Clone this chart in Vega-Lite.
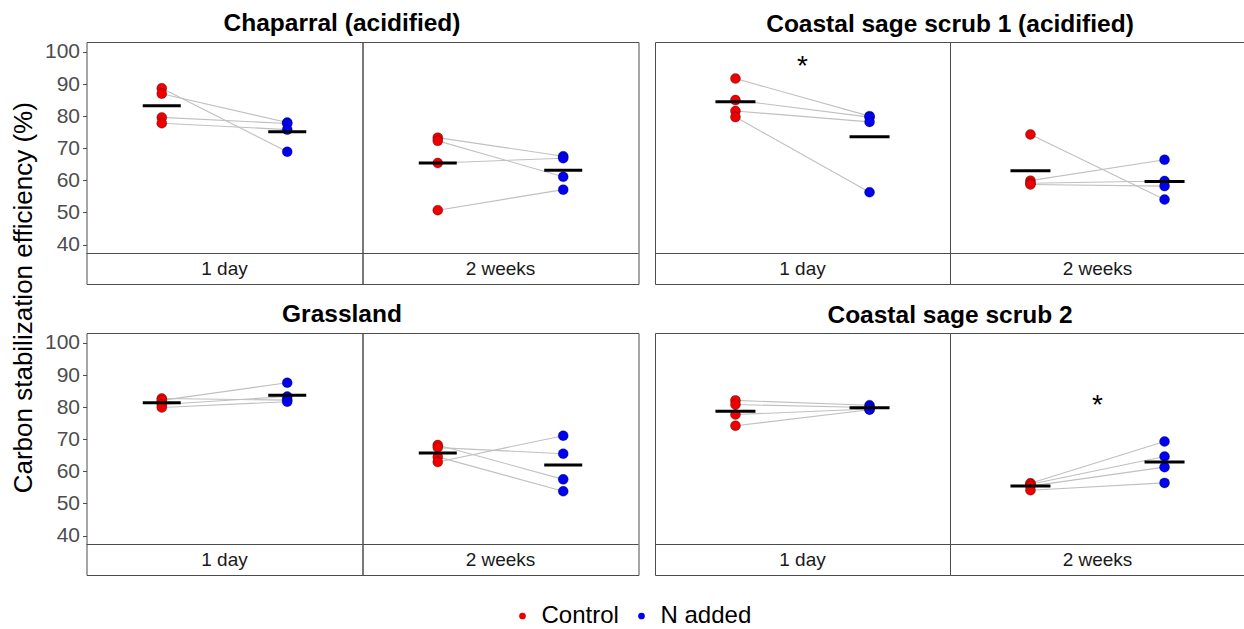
{
  "$schema": "https://vega.github.io/schema/vega-lite/v6.json",
  "padding": {"left": 10.5, "top": 11, "right": 0, "bottom": 0},
  "title": {"text": "Carbon stabilization efficiency (%)", "orient": "left", "anchor": "middle", "fontSize": 26, "fontWeight": "normal", "color": "black", "offset": -19, "baseline": "bottom", "dx": 22},
  "config": {
    "font": "Liberation Sans",
    "view": {"stroke": "#4d4d4d", "strokeWidth": 1},
    "title": {"fontSize": 24.5, "fontWeight": "bold", "color": "black", "anchor": "middle", "offset": 4, "baseline": "alphabetic"},
    "axisY": {"labelFontSize": 21, "labelColor": "#4d4d4d", "tickColor": "#4d4d4d", "tickSize": 4, "labelPadding": 3, "domain": false, "grid": false}
  },
  "datasets": {
    "obs": [
      {"site":"CH","time":"1 day","treatment":"Control","pair":"a","value":88.7},
      {"site":"CH","time":"1 day","treatment":"N added","pair":"a","value":68.9},
      {"site":"CH","time":"1 day","treatment":"Control","pair":"b","value":87.0},
      {"site":"CH","time":"1 day","treatment":"N added","pair":"b","value":78.0},
      {"site":"CH","time":"1 day","treatment":"Control","pair":"c","value":79.6},
      {"site":"CH","time":"1 day","treatment":"N added","pair":"c","value":77.7},
      {"site":"CH","time":"1 day","treatment":"Control","pair":"d","value":77.8},
      {"site":"CH","time":"1 day","treatment":"N added","pair":"d","value":75.8},
      {"site":"CH","time":"2 weeks","treatment":"Control","pair":"a","value":73.3},
      {"site":"CH","time":"2 weeks","treatment":"N added","pair":"a","value":67.5},
      {"site":"CH","time":"2 weeks","treatment":"Control","pair":"b","value":72.3},
      {"site":"CH","time":"2 weeks","treatment":"N added","pair":"b","value":61.1},
      {"site":"CH","time":"2 weeks","treatment":"Control","pair":"c","value":65.4},
      {"site":"CH","time":"2 weeks","treatment":"N added","pair":"c","value":66.9},
      {"site":"CH","time":"2 weeks","treatment":"Control","pair":"d","value":50.7},
      {"site":"CH","time":"2 weeks","treatment":"N added","pair":"d","value":57.1},
      {"site":"CSS1","time":"1 day","treatment":"Control","pair":"a","value":91.7},
      {"site":"CSS1","time":"1 day","treatment":"N added","pair":"a","value":80.0},
      {"site":"CSS1","time":"1 day","treatment":"Control","pair":"b","value":85.0},
      {"site":"CSS1","time":"1 day","treatment":"N added","pair":"b","value":79.7},
      {"site":"CSS1","time":"1 day","treatment":"Control","pair":"c","value":81.6},
      {"site":"CSS1","time":"1 day","treatment":"N added","pair":"c","value":78.2},
      {"site":"CSS1","time":"1 day","treatment":"Control","pair":"d","value":79.7},
      {"site":"CSS1","time":"1 day","treatment":"N added","pair":"d","value":56.3},
      {"site":"CSS1","time":"2 weeks","treatment":"Control","pair":"a","value":74.3},
      {"site":"CSS1","time":"2 weeks","treatment":"N added","pair":"a","value":54.0},
      {"site":"CSS1","time":"2 weeks","treatment":"Control","pair":"b","value":59.9},
      {"site":"CSS1","time":"2 weeks","treatment":"N added","pair":"b","value":66.4},
      {"site":"CSS1","time":"2 weeks","treatment":"Control","pair":"c","value":59.1},
      {"site":"CSS1","time":"2 weeks","treatment":"N added","pair":"c","value":59.8},
      {"site":"CSS1","time":"2 weeks","treatment":"Control","pair":"d","value":58.7},
      {"site":"CSS1","time":"2 weeks","treatment":"N added","pair":"d","value":58.2},
      {"site":"GR","time":"1 day","treatment":"Control","pair":"a","value":82.7},
      {"site":"GR","time":"1 day","treatment":"N added","pair":"a","value":82.2},
      {"site":"GR","time":"1 day","treatment":"Control","pair":"b","value":82.1},
      {"site":"GR","time":"1 day","treatment":"N added","pair":"b","value":87.6},
      {"site":"GR","time":"1 day","treatment":"Control","pair":"c","value":80.8},
      {"site":"GR","time":"1 day","treatment":"N added","pair":"c","value":83.3},
      {"site":"GR","time":"1 day","treatment":"Control","pair":"d","value":79.9},
      {"site":"GR","time":"1 day","treatment":"N added","pair":"d","value":81.7},
      {"site":"GR","time":"2 weeks","treatment":"Control","pair":"a","value":68.2},
      {"site":"GR","time":"2 weeks","treatment":"N added","pair":"a","value":57.5},
      {"site":"GR","time":"2 weeks","treatment":"Control","pair":"b","value":67.4},
      {"site":"GR","time":"2 weeks","treatment":"N added","pair":"b","value":65.5},
      {"site":"GR","time":"2 weeks","treatment":"Control","pair":"c","value":64.5},
      {"site":"GR","time":"2 weeks","treatment":"N added","pair":"c","value":53.8},
      {"site":"GR","time":"2 weeks","treatment":"Control","pair":"d","value":62.9},
      {"site":"GR","time":"2 weeks","treatment":"N added","pair":"d","value":71.1},
      {"site":"CSS2","time":"1 day","treatment":"Control","pair":"a","value":82.1},
      {"site":"CSS2","time":"1 day","treatment":"N added","pair":"a","value":80.6},
      {"site":"CSS2","time":"1 day","treatment":"Control","pair":"b","value":80.8},
      {"site":"CSS2","time":"1 day","treatment":"N added","pair":"b","value":79.9},
      {"site":"CSS2","time":"1 day","treatment":"Control","pair":"c","value":77.7},
      {"site":"CSS2","time":"1 day","treatment":"N added","pair":"c","value":79.4},
      {"site":"CSS2","time":"1 day","treatment":"Control","pair":"d","value":74.2},
      {"site":"CSS2","time":"1 day","treatment":"N added","pair":"d","value":79.2},
      {"site":"CSS2","time":"2 weeks","treatment":"Control","pair":"a","value":56.3},
      {"site":"CSS2","time":"2 weeks","treatment":"N added","pair":"a","value":69.3},
      {"site":"CSS2","time":"2 weeks","treatment":"Control","pair":"b","value":56.0},
      {"site":"CSS2","time":"2 weeks","treatment":"N added","pair":"b","value":64.6},
      {"site":"CSS2","time":"2 weeks","treatment":"Control","pair":"c","value":55.4},
      {"site":"CSS2","time":"2 weeks","treatment":"N added","pair":"c","value":61.3},
      {"site":"CSS2","time":"2 weeks","treatment":"Control","pair":"d","value":54.1},
      {"site":"CSS2","time":"2 weeks","treatment":"N added","pair":"d","value":56.4}
    ]
  },
  "data": {"name": "obs"},
  "spacing": 17,
  "vconcat": [
    {
      "spacing": 14.5,
      "hconcat": [
        {
          "title": "Chaparral (acidified)",
          "transform": [{"filter": {"field": "site", "equal": "CH"}}],
          "facet": {"column": {"field": "time", "type": "nominal", "header": {"title": null, "labels": false}}},
          "spacing": 0,
          "bounds": "flush",
          "spec": {
            "width": 276, "height": 242,
            "layer": [
              {
                "transform": [{"aggregate": [{"op": "count", "as": "n"}], "groupby": ["time"]}],
                "layer": [
                  {"mark": {"type": "rule", "color": "#4d4d4d", "strokeWidth": 1}, "encoding": {"y": {"datum": 37.2, "type": "quantitative", "scale": {"domain": [27.7, 103.1], "nice": false, "zero": false}, "axis": {"values": [40,50,60,70,80,90,100], "title": null}}}},
                  {"mark": {"type": "text", "fontSize": 19, "color": "#1a1a1a", "baseline": "middle"}, "encoding": {"y": {"datum": 32.4, "type": "quantitative", "scale": {"domain": [27.7, 103.1], "nice": false, "zero": false}, "axis": {"values": [40,50,60,70,80,90,100], "title": null}}, "text": {"field": "time"}}}
                ]
              },
              {"mark": {"type": "line", "color": "#c0c0c0", "strokeWidth": 1.1},
               "encoding": {"x": {"field": "treatment", "type": "nominal", "scale": {"type": "point", "padding": 0.6, "domain": ["Control", "N added"]}, "axis": null},
                            "y": {"field": "value", "type": "quantitative", "scale": {"domain": [27.7, 103.1], "nice": false, "zero": false}, "axis": {"values": [40,50,60,70,80,90,100], "title": null}},
                            "detail": {"field": "pair"}}},
              {"mark": {"type": "circle", "size": 100, "opacity": 1, "stroke": "#000000", "strokeWidth": 0.6, "strokeOpacity": 0.5},
               "encoding": {"x": {"field": "treatment", "type": "nominal", "scale": {"type": "point", "padding": 0.6, "domain": ["Control", "N added"]}, "axis": null},
                            "y": {"field": "value", "type": "quantitative", "scale": {"domain": [27.7, 103.1], "nice": false, "zero": false}, "axis": {"values": [40,50,60,70,80,90,100], "title": null}},
                            "color": {"field": "treatment", "type": "nominal", "scale": {"domain": ["Control", "N added"], "range": ["#ee0000", "#0000ee"]}, "legend": {"title": null, "orient": "none", "legendX": 424, "legendY": 562, "direction": "horizontal", "labelFontSize": 24, "labelColor": "black", "symbolSize": 45, "symbolType": "circle", "symbolStrokeWidth": 0, "labelOffset": 7, "columnPadding": 10}}}},
              {"mark": {"type": "tick", "orient": "horizontal", "color": "black", "thickness": 3, "size": 38},
               "encoding": {"x": {"field": "treatment", "type": "nominal", "scale": {"type": "point", "padding": 0.6, "domain": ["Control", "N added"]}, "axis": null},
                            "y": {"aggregate": "mean", "field": "value", "type": "quantitative", "scale": {"domain": [27.7, 103.1], "nice": false, "zero": false}, "axis": {"values": [40,50,60,70,80,90,100], "title": null}}}}
            ]
          }
        },
        {
          "title": "Coastal sage scrub 1 (acidified)",
          "transform": [{"filter": {"field": "site", "equal": "CSS1"}}],
          "facet": {"column": {"field": "time", "type": "nominal", "header": {"title": null, "labels": false}}},
          "spacing": 0,
          "bounds": "flush",
          "spec": {
            "width": 295, "height": 242,
            "layer": [
              {
                "transform": [{"aggregate": [{"op": "count", "as": "n"}], "groupby": ["time"]}],
                "layer": [
                  {"mark": {"type": "rule", "color": "#4d4d4d", "strokeWidth": 1}, "encoding": {"y": {"datum": 37.2, "type": "quantitative", "scale": {"domain": [27.7, 103.1], "nice": false, "zero": false}, "axis": null}}},
                  {"mark": {"type": "text", "fontSize": 19, "color": "#1a1a1a", "baseline": "middle"}, "encoding": {"y": {"datum": 32.4, "type": "quantitative", "scale": {"domain": [27.7, 103.1], "nice": false, "zero": false}, "axis": null}, "text": {"field": "time"}}}
                ]
              },
              {"mark": {"type": "line", "color": "#c0c0c0", "strokeWidth": 1.1},
               "encoding": {"x": {"field": "treatment", "type": "nominal", "scale": {"type": "point", "padding": 0.6, "domain": ["Control", "N added"]}, "axis": null},
                            "y": {"field": "value", "type": "quantitative", "scale": {"domain": [27.7, 103.1], "nice": false, "zero": false}, "axis": null},
                            "detail": {"field": "pair"}}},
              {"mark": {"type": "circle", "size": 100, "opacity": 1, "stroke": "#000000", "strokeWidth": 0.6, "strokeOpacity": 0.5},
               "encoding": {"x": {"field": "treatment", "type": "nominal", "scale": {"type": "point", "padding": 0.6, "domain": ["Control", "N added"]}, "axis": null},
                            "y": {"field": "value", "type": "quantitative", "scale": {"domain": [27.7, 103.1], "nice": false, "zero": false}, "axis": null},
                            "color": {"field": "treatment", "type": "nominal", "scale": {"domain": ["Control", "N added"], "range": ["#ee0000", "#0000ee"]}, "legend": {"title": null, "orient": "none", "legendX": 424, "legendY": 562, "direction": "horizontal", "labelFontSize": 24, "labelColor": "black", "symbolSize": 45, "symbolType": "circle", "symbolStrokeWidth": 0, "labelOffset": 7, "columnPadding": 10}}}},
              {"mark": {"type": "tick", "orient": "horizontal", "color": "black", "thickness": 3, "size": 40},
               "encoding": {"x": {"field": "treatment", "type": "nominal", "scale": {"type": "point", "padding": 0.6, "domain": ["Control", "N added"]}, "axis": null},
                            "y": {"aggregate": "mean", "field": "value", "type": "quantitative", "scale": {"domain": [27.7, 103.1], "nice": false, "zero": false}, "axis": null}}},
              {"transform": [{"filter": {"field": "time", "equal": "1 day"}}, {"aggregate": [{"op": "count", "as": "n"}], "groupby": ["time"]}],
               "mark": {"type": "text", "text": "*", "fontSize": 28, "baseline": "alphabetic", "color": "black"},
               "encoding": {"y": {"datum": 92.9, "type": "quantitative", "scale": {"domain": [27.7, 103.1], "nice": false, "zero": false}, "axis": null}}}
            ]
          }
        }
      ]
    },
    {
      "spacing": 14.5,
      "hconcat": [
        {
          "title": "Grassland",
          "transform": [{"filter": {"field": "site", "equal": "GR"}}],
          "facet": {"column": {"field": "time", "type": "nominal", "header": {"title": null, "labels": false}}},
          "spacing": 0,
          "bounds": "flush",
          "spec": {
            "width": 276, "height": 242,
            "layer": [
              {
                "transform": [{"aggregate": [{"op": "count", "as": "n"}], "groupby": ["time"]}],
                "layer": [
                  {"mark": {"type": "rule", "color": "#4d4d4d", "strokeWidth": 1}, "encoding": {"y": {"datum": 37.2, "type": "quantitative", "scale": {"domain": [27.7, 103.1], "nice": false, "zero": false}, "axis": {"values": [40,50,60,70,80,90,100], "title": null}}}},
                  {"mark": {"type": "text", "fontSize": 19, "color": "#1a1a1a", "baseline": "middle"}, "encoding": {"y": {"datum": 32.4, "type": "quantitative", "scale": {"domain": [27.7, 103.1], "nice": false, "zero": false}, "axis": {"values": [40,50,60,70,80,90,100], "title": null}}, "text": {"field": "time"}}}
                ]
              },
              {"mark": {"type": "line", "color": "#c0c0c0", "strokeWidth": 1.1},
               "encoding": {"x": {"field": "treatment", "type": "nominal", "scale": {"type": "point", "padding": 0.6, "domain": ["Control", "N added"]}, "axis": null},
                            "y": {"field": "value", "type": "quantitative", "scale": {"domain": [27.7, 103.1], "nice": false, "zero": false}, "axis": {"values": [40,50,60,70,80,90,100], "title": null}},
                            "detail": {"field": "pair"}}},
              {"mark": {"type": "circle", "size": 100, "opacity": 1, "stroke": "#000000", "strokeWidth": 0.6, "strokeOpacity": 0.5},
               "encoding": {"x": {"field": "treatment", "type": "nominal", "scale": {"type": "point", "padding": 0.6, "domain": ["Control", "N added"]}, "axis": null},
                            "y": {"field": "value", "type": "quantitative", "scale": {"domain": [27.7, 103.1], "nice": false, "zero": false}, "axis": {"values": [40,50,60,70,80,90,100], "title": null}},
                            "color": {"field": "treatment", "type": "nominal", "scale": {"domain": ["Control", "N added"], "range": ["#ee0000", "#0000ee"]}, "legend": {"title": null, "orient": "none", "legendX": 424, "legendY": 562, "direction": "horizontal", "labelFontSize": 24, "labelColor": "black", "symbolSize": 45, "symbolType": "circle", "symbolStrokeWidth": 0, "labelOffset": 7, "columnPadding": 10}}}},
              {"mark": {"type": "tick", "orient": "horizontal", "color": "black", "thickness": 3, "size": 38},
               "encoding": {"x": {"field": "treatment", "type": "nominal", "scale": {"type": "point", "padding": 0.6, "domain": ["Control", "N added"]}, "axis": null},
                            "y": {"aggregate": "mean", "field": "value", "type": "quantitative", "scale": {"domain": [27.7, 103.1], "nice": false, "zero": false}, "axis": {"values": [40,50,60,70,80,90,100], "title": null}}}}
            ]
          }
        },
        {
          "title": "Coastal sage scrub 2",
          "transform": [{"filter": {"field": "site", "equal": "CSS2"}}],
          "facet": {"column": {"field": "time", "type": "nominal", "header": {"title": null, "labels": false}}},
          "spacing": 0,
          "bounds": "flush",
          "spec": {
            "width": 295, "height": 242,
            "layer": [
              {
                "transform": [{"aggregate": [{"op": "count", "as": "n"}], "groupby": ["time"]}],
                "layer": [
                  {"mark": {"type": "rule", "color": "#4d4d4d", "strokeWidth": 1}, "encoding": {"y": {"datum": 37.2, "type": "quantitative", "scale": {"domain": [27.7, 103.1], "nice": false, "zero": false}, "axis": null}}},
                  {"mark": {"type": "text", "fontSize": 19, "color": "#1a1a1a", "baseline": "middle"}, "encoding": {"y": {"datum": 32.4, "type": "quantitative", "scale": {"domain": [27.7, 103.1], "nice": false, "zero": false}, "axis": null}, "text": {"field": "time"}}}
                ]
              },
              {"mark": {"type": "line", "color": "#c0c0c0", "strokeWidth": 1.1},
               "encoding": {"x": {"field": "treatment", "type": "nominal", "scale": {"type": "point", "padding": 0.6, "domain": ["Control", "N added"]}, "axis": null},
                            "y": {"field": "value", "type": "quantitative", "scale": {"domain": [27.7, 103.1], "nice": false, "zero": false}, "axis": null},
                            "detail": {"field": "pair"}}},
              {"mark": {"type": "circle", "size": 100, "opacity": 1, "stroke": "#000000", "strokeWidth": 0.6, "strokeOpacity": 0.5},
               "encoding": {"x": {"field": "treatment", "type": "nominal", "scale": {"type": "point", "padding": 0.6, "domain": ["Control", "N added"]}, "axis": null},
                            "y": {"field": "value", "type": "quantitative", "scale": {"domain": [27.7, 103.1], "nice": false, "zero": false}, "axis": null},
                            "color": {"field": "treatment", "type": "nominal", "scale": {"domain": ["Control", "N added"], "range": ["#ee0000", "#0000ee"]}, "legend": {"title": null, "orient": "none", "legendX": 424, "legendY": 562, "direction": "horizontal", "labelFontSize": 24, "labelColor": "black", "symbolSize": 45, "symbolType": "circle", "symbolStrokeWidth": 0, "labelOffset": 7, "columnPadding": 10}}}},
              {"mark": {"type": "tick", "orient": "horizontal", "color": "black", "thickness": 3, "size": 40},
               "encoding": {"x": {"field": "treatment", "type": "nominal", "scale": {"type": "point", "padding": 0.6, "domain": ["Control", "N added"]}, "axis": null},
                            "y": {"aggregate": "mean", "field": "value", "type": "quantitative", "scale": {"domain": [27.7, 103.1], "nice": false, "zero": false}, "axis": null}}},
              {"transform": [{"filter": {"field": "time", "equal": "2 weeks"}}, {"aggregate": [{"op": "count", "as": "n"}], "groupby": ["time"]}],
               "mark": {"type": "text", "text": "*", "fontSize": 28, "baseline": "alphabetic", "color": "black"},
               "encoding": {"y": {"datum": 77.8, "type": "quantitative", "scale": {"domain": [27.7, 103.1], "nice": false, "zero": false}, "axis": null}}}
            ]
          }
        }
      ]
    }
  ]
}
